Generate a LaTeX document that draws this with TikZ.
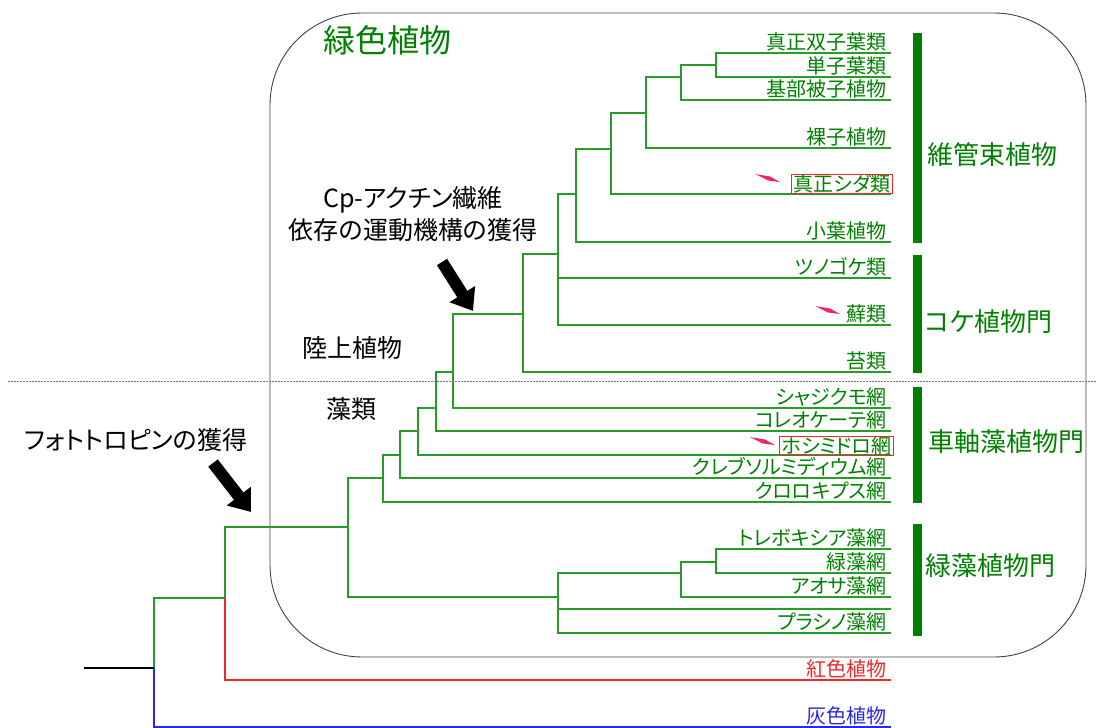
\documentclass[tikz,border=0pt]{standalone}
\usepackage{fontspec}
\setmainfont{Noto Sans CJK JP}[RawFeature=+palt]
\usetikzlibrary{arrows.meta}
\definecolor{lg}{RGB}{40,155,40}
\definecolor{tg}{RGB}{0,128,0}
\definecolor{mk}{RGB}{240,40,90}
\definecolor{rd}{RGB}{240,40,40}
\definecolor{bl}{RGB}{40,40,235}
\newcommand\redflag[1]{\begin{scope}[shift={#1}]\fill[mk] (0,0) -- (15,2.5) -- (25,8) -- (13,6.5) -- cycle;\end{scope}}
\begin{document}
\begin{tikzpicture}[x=1pt,y=-1pt,
  br/.style={draw=lg, line width=1.1pt},
  leaf/.style={anchor=south east, text=tg, font=\fontsize{20}{20}\selectfont, inner sep=1pt},
  boxed/.style={draw=rd, line width=0.8pt, inner xsep=2pt, inner ysep=0.5pt},
  grp/.style={anchor=west, text=tg, font=\fontsize{26}{26}\selectfont, inner sep=0pt},
  note/.style={text=black, font=\fontsize{25}{32}\selectfont, align=center, inner sep=0pt},
  bigarrow/.style={line width=12pt, -{Triangle[length=20pt,width=29pt]}},
]
\useasboundingbox (0,0) rectangle (1096,728);

% enclosing box and separator
\draw[black!75, line width=0.9pt, rounded corners=92pt] (270,13) rectangle (1086,657);
\coordinate (dl) at (8,381);
\coordinate (dr) at (1096,381);
\draw[black!55, line width=0.8pt, dash pattern=on 2pt off 1pt] (dl) -- (dr);

% leaves
\coordinate (L1) at (891,53);
\coordinate (L2) at (891,77);
\coordinate (L3) at (891,100);
\coordinate (L4) at (891,148);
\coordinate (L5) at (891,194);
\coordinate (L6) at (891,242);
\coordinate (L7) at (891,278);
\coordinate (L8) at (891,325);
\coordinate (L9) at (891,372);
\coordinate (L10) at (891,408);
\coordinate (L11) at (891,431);
\coordinate (L12) at (891,455);
\coordinate (L13) at (891,478);
\coordinate (L14) at (891,502);
\coordinate (L15) at (891,549);
\coordinate (L16) at (891,573);
\coordinate (L17) at (891,597);
\coordinate (L18a) at (891,609);
\coordinate (L18) at (891,633);
\coordinate (L19) at (891,680);
\coordinate (L20) at (891,727);
% internal nodes
\coordinate (n1) at (716,65);
\coordinate (n2) at (681,77);
\coordinate (n3) at (646,113);
\coordinate (n4) at (611,149);
\coordinate (n5) at (576,194);
\coordinate (n6) at (558,254);
\coordinate (n7) at (523,314);
\coordinate (n8) at (453,372);
\coordinate (n9) at (436,408);
\coordinate (n10) at (418,431);
\coordinate (n11) at (400,455);
\coordinate (n12) at (383,478);
\coordinate (c1) at (716,562);
\coordinate (c2) at (681,573);
\coordinate (c3) at (558,597);
\coordinate (n13) at (348,527);
\coordinate (n14) at (225,598);
\coordinate (n15) at (154,668);
\coordinate (root) at (84,668);

% branches
\draw[br] (n1) |- (L1);  \draw[br] (n1) |- (L2);
\draw[br] (n2) |- (n1);  \draw[br] (n2) |- (L3);
\draw[br] (n3) |- (n2);  \draw[br] (n3) |- (L4);
\draw[br] (n4) |- (n3);  \draw[br] (n4) |- (L5);
\draw[br] (n5) |- (n4);  \draw[br] (n5) |- (L6);
\draw[br] (n6) |- (n5);  \draw[br] (n6) |- (L7);  \draw[br] (n6) |- (L8);
\draw[br] (n7) |- (n6);  \draw[br] (n7) |- (L9);
\draw[br] (n8) |- (n7);  \draw[br] (n8) |- (L10);
\draw[br] (n9) |- (n8);  \draw[br] (n9) |- (L11);
\draw[br] (n10) |- (n9); \draw[br] (n10) |- (L12);
\draw[br] (n11) |- (n10); \draw[br] (n11) |- (L13);
\draw[br] (n12) |- (n11); \draw[br] (n12) |- (L14);
\draw[br] (c1) |- (L15); \draw[br] (c1) |- (L16);
\draw[br] (c2) |- (c1);  \draw[br] (c2) |- (L17);
\draw[br] (c3) |- (c2);  \draw[br] (c3) |- (L18a); \draw[br] (c3) |- (L18);
\draw[br] (n13) |- (n12); \draw[br] (n13) |- (c3);
\draw[br] (n14) |- (n13);
\draw[br] (n15) |- (n14);
\draw[br, draw=rd] (n14) |- (L19);
\draw[br, draw=bl] (n15) |- (L20);
\draw[line width=1.1pt, black] (root) -- (n15);

% leaf labels
\node[leaf] (t1) at (888,52) {真正双子葉類};
\node[leaf] (t2) at (888,76) {単子葉類};
\node[leaf] (t3) at (888,99) {基部被子植物};
\node[leaf] (t4) at (888,147) {裸子植物};
\node[leaf, boxed] (t5) at (893,194) {真正シダ類};
\node[leaf] (t6) at (888,241) {小葉植物};
\node[leaf] (t7) at (888,277) {ツノゴケ類};
\node[leaf] (t8) at (888,324) {蘚類};
\node[leaf] (t9) at (888,371) {苔類};
\node[leaf] (t10) at (888,407) {シャジクモ網};
\node[leaf] (t11) at (888,430) {コレオケーテ網};
\node[leaf, boxed] (t12) at (894,456) {ホシミドロ網};
\node[leaf] (t13) at (888,477) {クレブソルミディウム網};
\node[leaf] (t14) at (888,501) {クロロキプス網};
\node[leaf] (t15) at (888,548) {トレボキシア藻網};
\node[leaf] (t16) at (888,572) {緑藻網};
\node[leaf] (t17) at (888,596) {アオサ藻網};
\node[leaf] (t18) at (888,632) {プラシノ藻網};
\node[leaf, text=rd] (t19) at (888,679) {紅色植物};
\node[leaf, text=bl] (t20) at (888,726) {灰色植物};

% red markers
\redflag{(755,174)}
\redflag{(815,306)}
\redflag{(750,437)}

% group bars and labels
\fill[tg] (913,33) rectangle (922,243);
\fill[tg] (913,255) rectangle (922,373);
\fill[tg] (913,387) rectangle (922,503);
\fill[tg] (913,524) rectangle (922,636);
\node[grp] (g1) at (927,155) {維管束植物};
\node[grp] (g2) at (925,322) {コケ植物門};
\node[grp] (g3) at (928,442) {車軸藻植物門};
\node[grp] (g4) at (925,566) {緑藻植物門};

% titles and notes
\node[anchor=west, text=tg, font=\fontsize{32}{32}\selectfont, inner sep=0pt] (title) at (323,40) {緑色植物};
\node[note] (photo) at (136,440) {フォトトロピンの獲得};
\node[note] (cp) at (413,214) {Cp-アクチン繊維\\依存の運動機構の獲得};
\node[note] (land) at (352,348) {陸上植物};
\node[note] (alg) at (351,409) {藻類};

% arrows
\coordinate (a1s) at (213,463);
\coordinate (a1e) at (251,512);
\coordinate (a2s) at (442,262);
\coordinate (a2e) at (473,311);
\draw[bigarrow] (a1s) -- (a1e);
\draw[bigarrow] (a2s) -- (a2e);
\end{tikzpicture}
\end{document}
